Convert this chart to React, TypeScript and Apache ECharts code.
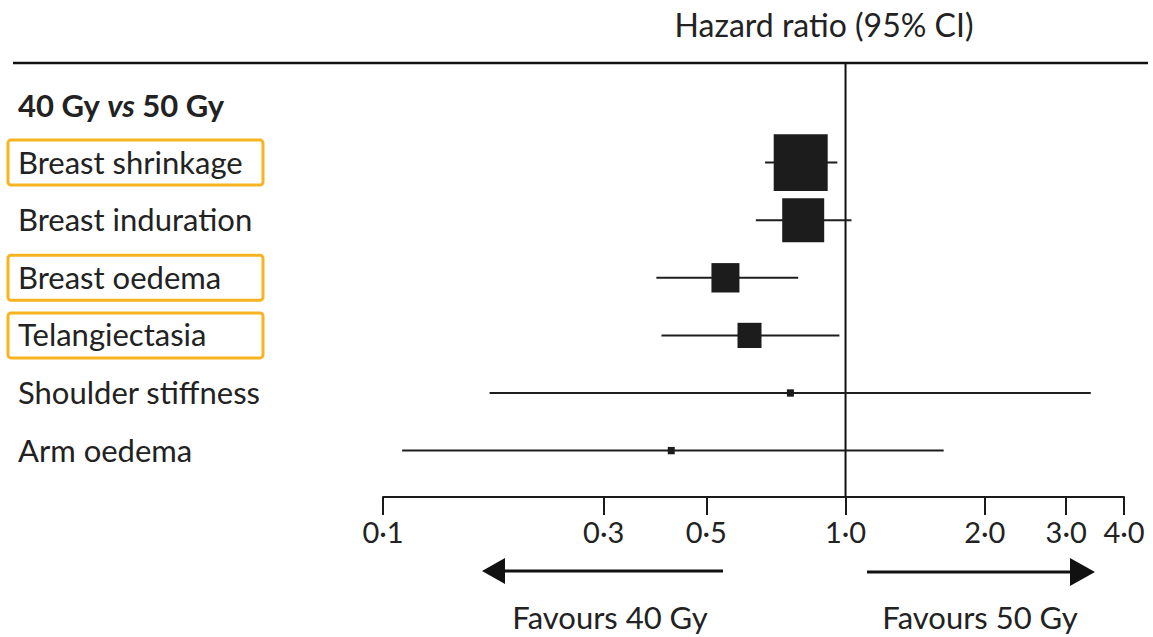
import React, { useEffect, useRef } from 'react';
import * as echarts from 'echarts';

const groupHeading = '40 Gy vs 50 Gy';
const outcomes = ['Breast shrinkage', 'Breast induration', 'Breast oedema', 'Telangiectasia', 'Shoulder stiffness', 'Arm oedema'];
const hazardRatio = [0.80, 0.81, 0.55, 0.62, 0.76, 0.42];
const ciLower = [0.67, 0.64, 0.39, 0.40, 0.17, 0.11];
const ciUpper = [0.96, 1.03, 0.79, 0.97, 3.39, 1.63];
const weight = [54, 42, 28, 24, 7, 7];
const highlighted = [true, false, true, true, false, false];
const tickValues = [0.1, 0.3, 0.5, 1, 2, 3, 4];
const axisTitle = 'Hazard ratio (95% CI)';
const favoursLeft = 'Favours 40 Gy';
const favoursRight = 'Favours 50 Gy';

const FONT = 'Lato';
const INK = '#222';

export default function App() {
  const ref = useRef<HTMLDivElement>(null);
  useEffect(() => {
    if (!ref.current) return;
    const chart = echarts.init(ref.current, null, { renderer: 'svg' });
    const categories = [groupHeading, ...outcomes];
    const seriesData = outcomes.map((_, i) => [ciLower[i], ciUpper[i], hazardRatio[i], i + 1, weight[i]]);
    const [hA, hB] = groupHeading.split(' vs ');
    const option: any = {
      animation: false,
      grid: { left: 383, right: 29, top: 76.2, bottom: 157.6, containLabel: false },
      xAxis: {
        type: 'log',
        logBase: 10,
        min: 0.1,
        max: 4,
        offset: 17.6,
        axisLine: { show: true, lineStyle: { color: '#1a1a1a', width: 2 } },
        axisTick: { show: true, customValues: tickValues, length: 18, inside: false, lineStyle: { color: '#1a1a1a', width: 2 } },
        axisLabel: {
          customValues: tickValues,
          formatter: (v: number) => v.toFixed(1).replace('.', '·'),
          margin: 20,
          fontSize: 29,
          fontFamily: FONT,
          color: INK,
        },
        splitLine: { show: false },
        minorTick: { show: false },
      },
      yAxis: {
        type: 'category',
        inverse: true,
        data: categories,
        axisLine: { show: false },
        axisTick: { show: false },
        splitLine: { show: false },
        axisLabel: {
          align: 'left',
          margin: 375,
          interval: 0,
          formatter: (v: string, i: number) => {
            if (i === 0) return `{h0|${hA} }{hi|vs}{h| ${hB}}`;
            return highlighted[i - 1] ? `{box|${v}}` : `{plain|${v}}`;
          },
          rich: {
            h0: { fontSize: 31, fontWeight: 'bold', fontFamily: FONT, color: INK, padding: [0, 0, 0, 10] },
            h: { fontSize: 31, fontWeight: 'bold', fontFamily: FONT, color: INK },
            hi: { fontSize: 31, fontWeight: 'bold', fontStyle: 'italic', fontFamily: FONT, color: INK },
            box: {
              fontSize: 31, fontFamily: FONT, color: INK, lineHeight: 32,
              borderColor: '#F8B320', borderWidth: 3, borderRadius: 3,
              padding: [6, 10, 8, 10], width: 235,
            },
            plain: { fontSize: 31, fontFamily: FONT, color: INK, lineHeight: 32, padding: [6, 10, 8, 10] },
          },
        },
      },
      series: [
        {
          type: 'custom',
          dimensions: ['lo', 'hi', 'hr', 'row', 'w'],
          encode: { x: [0, 1, 2], y: 3 },
          data: seriesData,
          clip: false,
          renderItem: (params: any, api: any) => {
            const row = api.value(3);
            const lo = api.coord([api.value(0), row]);
            const hi = api.coord([api.value(1), row]);
            const c = api.coord([api.value(2), row]);
            const w = api.value(4);
            const h = w * 1.05;
            return {
              type: 'group',
              children: [
                { type: 'line', shape: { x1: lo[0], y1: lo[1], x2: hi[0], y2: hi[1] }, style: { stroke: '#1e1e1e', lineWidth: 2 } },
                { type: 'rect', shape: { x: c[0] - w / 2, y: c[1] - h / 2, width: w, height: h }, style: { fill: '#1c1c1c' } },
              ],
            };
          },
        },
      ],
      graphic: [
        { id: 'title', type: 'text', x: 824, y: 24, style: { text: axisTitle, fontSize: 32, fontFamily: FONT, fill: INK, textAlign: 'center', textVerticalAlign: 'middle' } },
        { id: 'toprule', type: 'line', shape: { x1: 13, y1: 63, x2: 1148, y2: 63 }, style: { stroke: '#111', lineWidth: 2.5 } },
        { id: 'larrow', type: 'line', shape: { x1: 723, y1: 571, x2: 500, y2: 571 }, style: { stroke: '#111', lineWidth: 3 } },
        { id: 'lhead', type: 'polygon', shape: { points: [[482, 571], [505, 558], [505, 584]] }, style: { fill: '#111' } },
        { id: 'rarrow', type: 'line', shape: { x1: 867, y1: 572, x2: 1075, y2: 572 }, style: { stroke: '#111', lineWidth: 3 } },
        { id: 'rhead', type: 'polygon', shape: { points: [[1095, 572], [1070, 558], [1070, 586]] }, style: { fill: '#111' } },
        { id: 'favl', type: 'text', x: 610, y: 617, style: { text: favoursLeft, fontSize: 31, fontFamily: FONT, fill: INK, textAlign: 'center', textVerticalAlign: 'middle' } },
        { id: 'favr', type: 'text', x: 980, y: 617, style: { text: favoursRight, fontSize: 31, fontFamily: FONT, fill: INK, textAlign: 'center', textVerticalAlign: 'middle' } },
      ],
    };
    chart.setOption(option);
    const px = chart.convertToPixel({ xAxisIndex: 0 }, 1) as number;
    chart.setOption({
      graphic: [
        { id: 'vline', type: 'line', shape: { x1: px, y1: 63, x2: px, y2: 497 }, style: { stroke: '#111', lineWidth: 2 } },
      ],
    });
    return () => chart.dispose();
  }, []);
  return <div ref={ref} style={{ position: 'fixed', left: 0, top: 0, width: 1153, height: 637, background: '#fff' }} />;
}
